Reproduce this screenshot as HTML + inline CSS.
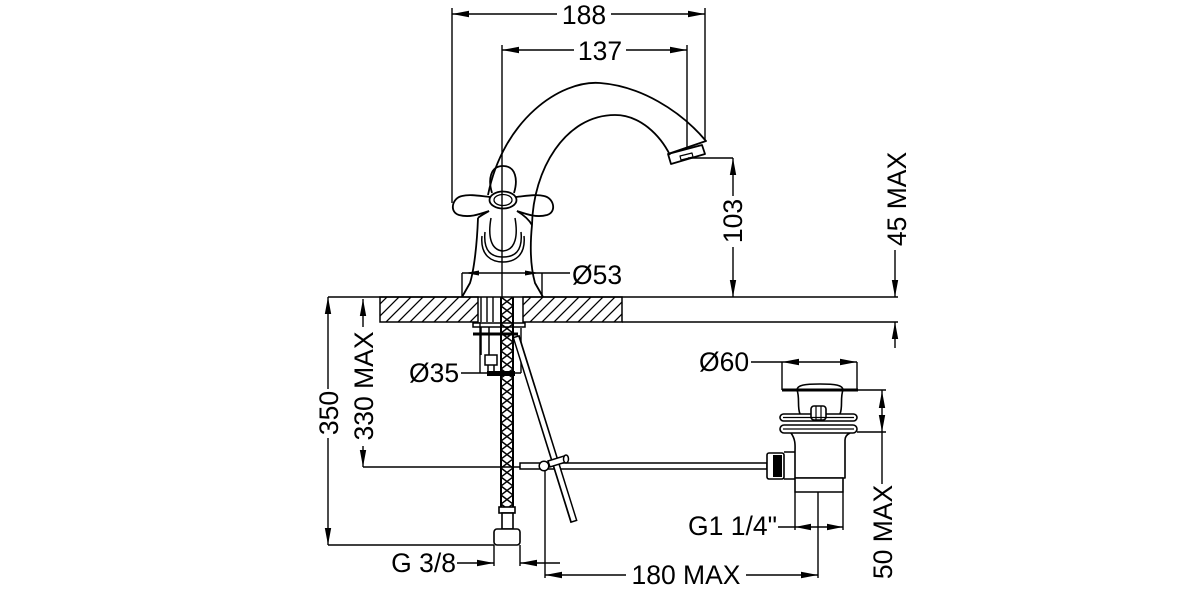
<!DOCTYPE html>
<html><head><meta charset="utf-8"><style>
html,body{margin:0;padding:0;background:#fff;}
svg{display:block;}
text{font-family:"Liberation Sans",Arial,sans-serif;font-size:26.5px;fill:#000;stroke:none;}
</style></head><body>
<svg width="1200" height="600" viewBox="0 0 1200 600" xmlns="http://www.w3.org/2000/svg">
<defs>
<pattern id="hatch" width="12" height="12" patternUnits="userSpaceOnUse">
<path d="M-3,3 L3,-3 M0,12 L12,0 M9,15 L15,9" stroke="#000" stroke-width="1.3"/>
</pattern>
<pattern id="braid" x="501" y="297" width="12" height="9" patternUnits="userSpaceOnUse">
<path d="M0,0 L12,9 M12,0 L0,9" stroke="#000" stroke-width="1.5"/>
</pattern>
</defs>
<rect width="1200" height="600" fill="#fff"/>

<!-- ===== dimension lines ===== -->
<g fill="none" stroke="#000" stroke-width="1.4">
<!-- 188 -->
<path d="M452,8 V203 M705,8 V140 M452,14 H557 M611,14 H705"/>
<!-- 137 -->
<path d="M502,45 V297 M687,45 V148 M502,50 H574 M626,50 H687"/>
<!-- 103 -->
<path d="M688,158 H733 M733,158 V196 M733,247 V297"/>
<!-- 45 MAX -->
<path d="M895,250 V297 M895,322 V348"/>
<!-- counter lines -->
<path d="M328,297 H898 M622,322 H898"/>
<!-- 350 -->
<path d="M328,297 V389 M328,438 V545 M328,545 H494"/>
<!-- 330 MAX -->
<path d="M363,299 V327 M363,446 V467 M363,467 H520"/>
<!-- Ø53 -->
<path d="M462,273 V297 M542,273 V297 M462,273 H570"/>
<!-- Ø35 -->
<path d="M461,373 H521 M480,322 V373 M521,328 V373"/>
<!-- G 3/8 -->
<path d="M494,545 V566 M520,545 V566 M457,563 H494 M520,563 H560"/>
<!-- 180 MAX -->
<path d="M545,470 V578 M545,575 H626 M746,575 H818 M818,492 V578"/>
<!-- G1 1/4 -->
<path d="M795,492 V530 M843,492 V530 M778,527 H843"/>
<!-- Ø60 -->
<path d="M751,362 H857 M782,362 V390 M857,362 V390"/>
<!-- 50 MAX -->
<path d="M858,390 H886 M857,432 H886 M882,390 V484"/>
</g>

<!-- arrowheads -->
<g fill="#000" stroke="none">
<polygon points="452,14 469,10.8 469,17.2"/>
<polygon points="705,14 688,10.8 688,17.2"/>
<polygon points="502,50 519,46.8 519,53.2"/>
<polygon points="687,50 670,46.8 670,53.2"/>
<polygon points="733,158 729.8,175 736.2,175"/>
<polygon points="733,297 729.8,280 736.2,280"/>
<polygon points="895,297 891.8,280 898.2,280"/>
<polygon points="895,322 891.8,339 898.2,339"/>
<polygon points="328,297 324.8,314 331.2,314"/>
<polygon points="328,545 324.8,528 331.2,528"/>
<polygon points="363,299 359.8,316 366.2,316"/>
<polygon points="363,467 359.8,450 366.2,450"/>
<polygon points="465,273 479,270.5 479,275.5"/>
<polygon points="539,273 525,270.5 525,275.5"/>
<polygon points="782,362 799,358.8 799,365.2"/>
<polygon points="857,362 840,358.8 840,365.2"/>
<polygon points="494,563 477,559.8 477,566.2"/>
<polygon points="520,563 537,559.8 537,566.2"/>
<polygon points="795,527 811,523.8 811,530.2"/>
<polygon points="843,527 827,523.8 827,530.2"/>
<polygon points="545,575 562,571.8 562,578.2"/>
<polygon points="818,575 801,571.8 801,578.2"/>
<polygon points="882,391 878.8,408 885.2,408"/>
<polygon points="882,432 878.8,415 885.2,415"/>
</g>

<!-- ===== counter slab ===== -->
<rect x="380" y="297" width="98" height="25" fill="url(#hatch)" stroke="#000" stroke-width="1.5"/>
<rect x="523" y="297" width="99" height="25" fill="url(#hatch)" stroke="#000" stroke-width="1.5"/>
<g fill="none" stroke="#000" stroke-width="1.4">
<path d="M481,297 V322 M487,297 V322 M493,297 V322"/>
</g>

<!-- ===== faucet ===== -->
<g fill="none" stroke="#000" stroke-width="1.8" stroke-linejoin="round">
<!-- spout outer -->
<path d="M488,195 C503,120 560,80 600,83 C640,86 680,110 706,141 L668,154"/>
<!-- spout inner / body right -->
<path d="M670,155 C660,135 640,115 615,115 C565,115 533,170 532,225 C530,245 530,265 535,283 L543,297"/>
<!-- body left -->
<path d="M478,218 C477,245 474,270 470,283 L462,297"/>
<!-- aerator -->
<path d="M668,154 L702,145 L705,154 L671,164 Z"/>
<path d="M680,156 L692,153 L693,157 L681,160 Z" stroke-width="1.2"/>
<!-- handle -->
<path d="M492,193 C488,180 490,166 503,166 C516,166 518,180 514,193"/>
<path d="M490,197 C480,196 470,194 462,196 C452,198 449,212 459,215 C470,218 480,214 489,211"/>
<path d="M516,197 C526,196 536,194 544,196 C554,198 557,212 547,215 C536,218 526,214 517,211"/>
<ellipse cx="503" cy="200" rx="13.5" ry="8.5"/>
<ellipse cx="503" cy="200" rx="9" ry="5.5" stroke-width="1.3"/>
<path d="M489,211 C484,214 480,216 478,218"/>
<path d="M517,211 C522,214 528,218 532,225"/>
<!-- U shapes -->
<path d="M491,218 C488,235 490,250 503,251 C516,250 518,235 515,218" stroke-width="1.5"/>
<path d="M485,232 C483,252 492,257 503,257 C514,257 523,252 521,232" stroke-width="1.5"/>
<path d="M482,236 C480,256 492,262 503,262 C514,262 526,256 524,236" stroke-width="1.5"/>
</g>

<!-- ===== under counter ===== -->
<g fill="none" stroke="#000" stroke-width="1.5">
<rect x="473" y="323" width="52" height="4"/>
<path d="M473,334 H518" stroke-width="3"/>
<path d="M481,327 V355 M489,327 V355"/>
<rect x="485" y="355" width="12" height="10"/>
<path d="M488,365 V371 M494,365 V371"/>
</g>
<rect x="487" y="371" width="28" height="5" fill="#000"/>

<!-- hose -->
<rect x="501" y="297" width="12" height="211" fill="url(#braid)"/>
<path d="M501,297 V508 M513,297 V508" stroke="#000" stroke-width="2" fill="none"/>
<g fill="#fff" stroke="#000" stroke-width="1.6">
<rect x="499" y="507" width="16" height="6"/>
<rect x="502" y="513" width="11" height="16"/>
<rect x="494" y="529" width="26" height="16" rx="3"/>
</g>

<!-- pull rod -->
<rect x="520" y="463" width="247" height="6" fill="#fff" stroke="#000" stroke-width="1.5"/>
<!-- lift rod -->
<path d="M516,336 L574,522" stroke="#000" stroke-width="7.5" fill="none"/>
<path d="M516.3,337.5 L573.7,520.5" stroke="#fff" stroke-width="4.3" fill="none"/>
<!-- clamp -->
<g fill="#fff" stroke="#000" stroke-width="1.5">
<path d="M548,461 L564,456 L566,462 L550,467 Z"/>
<ellipse cx="566" cy="459" rx="2.5" ry="4"/>
<circle cx="544" cy="466" r="4.8"/>
</g>

<!-- ===== drain ===== -->
<g fill="#fff" stroke="#000" stroke-width="1.6" stroke-linejoin="round">
<!-- knurled nut -->
<rect x="767" y="453" width="17" height="26" rx="2"/>
<path d="M784,452 L795,452 M784,479 L795,479"/>
<!-- body -->
<path d="M791,433 C796,440 795,446 795,452 L795,478 L845,478 L845,440 C845,436 848,434 850,433"/>
<!-- tail -->
<rect x="795" y="478" width="48" height="14"/>
<!-- flanges -->
<rect x="780" y="425" width="77" height="8" rx="4"/>
<rect x="780" y="414" width="77" height="7" rx="3.5"/>
<!-- neck -->
<path d="M797,390 C800,398 797,407 800,414 M843,390 C840,398 843,407 840,414" fill="none"/>
<!-- dome -->
<path d="M797,390 C797,385 805,384 820,384 C835,384 843,385 843,390"/>
<!-- screw -->
<rect x="811" y="406" width="15" height="14" rx="3"/>
</g>
<g fill="none" stroke="#000" stroke-width="1.2">
<path d="M816,406 V420 M821,406 V420"/>
<path d="M783,417.5 H854 M783,429 H854"/>
</g>
<rect x="773" y="455" width="9" height="22" fill="#000"/>
<path d="M782,390 H858" stroke="#000" stroke-width="3"/>

<!-- ===== texts ===== -->
<text x="584" y="24" text-anchor="middle">188</text>
<text x="600" y="60" text-anchor="middle">137</text>
<text x="572" y="284">Ø53</text>
<text x="409" y="382">Ø35</text>
<text x="699" y="371">Ø60</text>
<text x="456" y="572" text-anchor="end">G 3/8</text>
<text x="777" y="535" text-anchor="end">G1 1/4"</text>
<text x="686" y="584" text-anchor="middle">180 MAX</text>
<text transform="translate(742,221) rotate(-90)" text-anchor="middle">103</text>
<text transform="translate(906,199) rotate(-90)" text-anchor="middle">45 MAX</text>
<text transform="translate(338,413) rotate(-90)" text-anchor="middle">350</text>
<text transform="translate(373,386) rotate(-90)" text-anchor="middle">330 MAX</text>
<text transform="translate(892,532) rotate(-90)" text-anchor="middle">50 MAX</text>
</svg>
</body></html>
